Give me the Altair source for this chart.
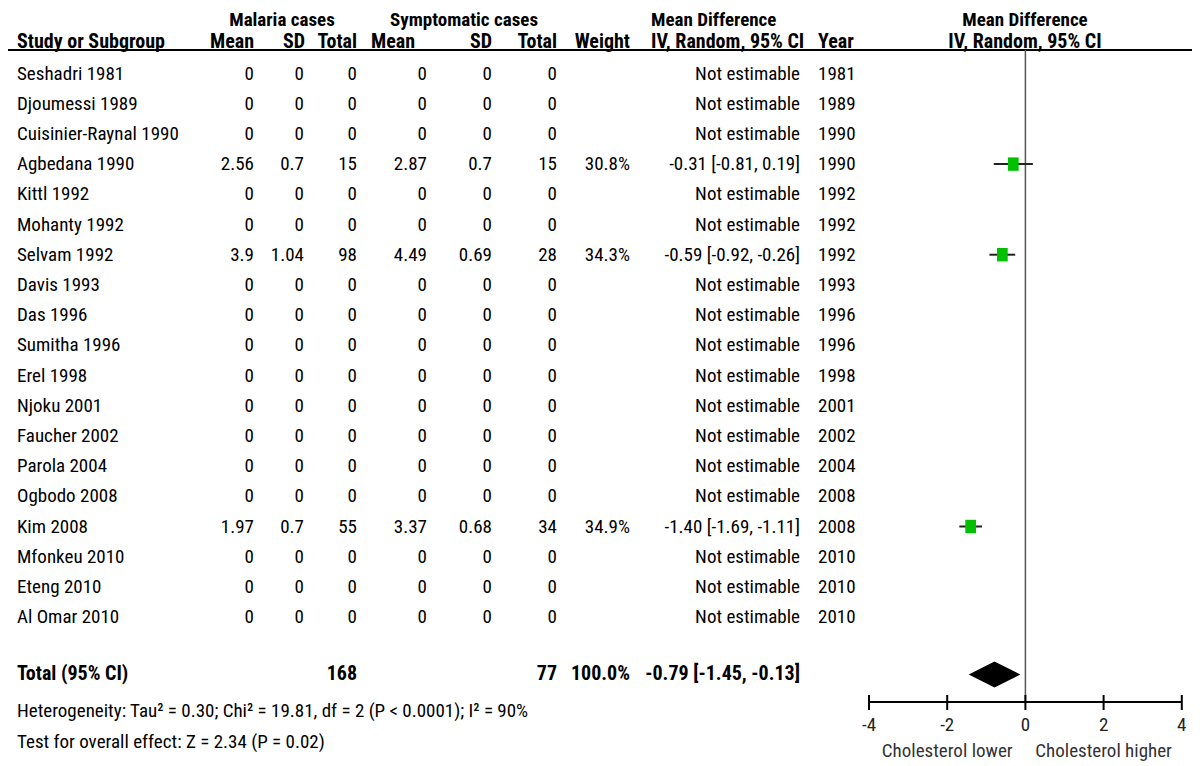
import altair as alt
import pandas as pd

# ---------------- data ----------------
studies = ["Seshadri 1981", "Djoumessi 1989", "Cuisinier-Raynal 1990", "Agbedana 1990",
           "Kittl 1992", "Mohanty 1992", "Selvam 1992", "Davis 1993", "Das 1996",
           "Sumitha 1996", "Erel 1998", "Njoku 2001", "Faucher 2002", "Parola 2004",
           "Ogbodo 2008", "Kim 2008", "Mfonkeu 2010", "Eteng 2010", "Al Omar 2010"]
years = [1981, 1989, 1990, 1990, 1992, 1992, 1992, 1993, 1996, 1996, 1998, 2001,
         2002, 2004, 2008, 2008, 2010, 2010, 2010]
mal_mean = [0, 0, 0, 2.56, 0, 0, 3.9, 0, 0, 0, 0, 0, 0, 0, 0, 1.97, 0, 0, 0]
mal_sd = [0, 0, 0, 0.7, 0, 0, 1.04, 0, 0, 0, 0, 0, 0, 0, 0, 0.7, 0, 0, 0]
mal_total = [0, 0, 0, 15, 0, 0, 98, 0, 0, 0, 0, 0, 0, 0, 0, 55, 0, 0, 0]
sym_mean = [0, 0, 0, 2.87, 0, 0, 4.49, 0, 0, 0, 0, 0, 0, 0, 0, 3.37, 0, 0, 0]
sym_sd = [0, 0, 0, 0.7, 0, 0, 0.69, 0, 0, 0, 0, 0, 0, 0, 0, 0.68, 0, 0, 0]
sym_total = [0, 0, 0, 15, 0, 0, 28, 0, 0, 0, 0, 0, 0, 0, 0, 34, 0, 0, 0]
weights = [None, None, None, 30.8, None, None, 34.3, None, None, None, None, None,
           None, None, None, 34.9, None, None, None]
md = [None, None, None, -0.31, None, None, -0.59, None, None, None, None, None,
      None, None, None, -1.40, None, None, None]
md_lo = [None, None, None, -0.81, None, None, -0.92, None, None, None, None, None,
         None, None, None, -1.69, None, None, None]
md_hi = [None, None, None, 0.19, None, None, -0.26, None, None, None, None, None,
         None, None, None, -1.11, None, None, None]

total_mal = 168
total_sym = 77
total_weight = 100.0
pooled = -0.79
pooled_lo = -1.45
pooled_hi = -0.13
axis_ticks = [-4, -2, 0, 2, 4]
direction_labels = ["Cholesterol lower", "Cholesterol higher"]
direction_pos = [-2, 2]
heterogeneity = "Heterogeneity: Tau\u00b2 = 0.30; Chi\u00b2 = 19.81, df = 2 (P < 0.0001); I\u00b2 = 90%"
overall = "Test for overall effect: Z = 2.34 (P = 0.02)"

# ---------------- layout ----------------
FONT = "Roboto Condensed, Liberation Sans Narrow, Arial Narrow, sans-serif"
FS = 19
FSB = 20
W, H = 1184, 758
ROW0 = 65.5      # view y of first row
ROW_H = 30.2     # row spacing
TOTAL_ROW = 19.9
YS = alt.Scale(domain=[-ROW0 / ROW_H, (750 - ROW0) / ROW_H], range=[0, 750])
XS = alt.Scale(domain=[-4, 4], range=[861, 1173.8])


def fmt(v):
    return f"{v:g}"


rows = pd.DataFrame({
    "row": list(range(len(studies))),
    "study": studies,
    "mm": [fmt(v) for v in mal_mean],
    "ms": [fmt(v) for v in mal_sd],
    "mt": [fmt(v) for v in mal_total],
    "sm": [fmt(v) for v in sym_mean],
    "ss": [fmt(v) for v in sym_sd],
    "st": [fmt(v) for v in sym_total],
    "w": [f"{v:.1f}%" if v is not None else "" for v in weights],
    "ci": [f"{m:.2f} [{l:.2f}, {h:.2f}]" if m is not None else "Not estimable"
           for m, l, h in zip(md, md_lo, md_hi)],
    "year": [str(y) for y in years],
    "md": md, "lo": md_lo, "hi": md_hi,
})
est = rows.dropna(subset=["md"])

total_df = pd.DataFrame({
    "row": [TOTAL_ROW], "study": ["Total (95% CI)"], "mt": [str(total_mal)],
    "st": [str(total_sym)], "w": [f"{total_weight:.1f}%"],
    "ci": [f"{pooled:.2f} [{pooled_lo:.2f}, {pooled_hi:.2f}]"],
})

layers = []

# table columns: (field, x, align)
cols = [("study", 9, "left"), ("mm", 246, "right"), ("ms", 296, "right"),
        ("mt", 349, "right"), ("sm", 419, "right"), ("ss", 484, "right"),
        ("st", 549, "right"), ("w", 622, "right"), ("ci", 792, "right"),
        ("year", 810, "left")]
for f, x, a in cols:
    layers.append(
        alt.Chart(rows).mark_text(align=a, baseline="middle", font=FONT, fontSize=FS, color="black")
        .encode(x=alt.value(x), y=alt.Y("row:Q", scale=YS, axis=None), text=f"{f}:N")
    )
    if f in total_df.columns:
        layers.append(
            alt.Chart(total_df).mark_text(align=a, baseline="middle", font=FONT, fontSize=FSB,
                                          fontWeight="bold", color="black")
            .encode(x=alt.value(x), y=alt.Y("row:Q", scale=YS, axis=None), text=f"{f}:N")
        )


def label(txt, x, y, align="left", bold=False, color="black", size=None):
    df = pd.DataFrame({"t": [txt]})
    fs = size if size else (FSB if bold else FS)
    kw = dict(align=align, baseline="middle", font=FONT, fontSize=fs, color=color)
    if bold:
        kw["fontWeight"] = "bold"
    return alt.Chart(df).mark_text(**kw).encode(x=alt.value(x), y=alt.value(y), text="t:N")


HY1, HY2 = 11.5, 33.5
layers += [
    label("Malaria cases", 274, HY1, "center", True, size=19),
    label("Symptomatic cases", 456, HY1, "center", True, size=19),
    label("Mean Difference", 643, HY1, "left", True, size=19),
    label("Mean Difference", 1017, HY1, "center", True, size=19),
    label("Study or Subgroup", 9, HY2, "left", True),
    label("Mean", 246, HY2, "right", True),
    label("SD", 297, HY2, "right", True),
    label("Total", 349, HY2, "right", True),
    label("Mean", 407, HY2, "right", True),
    label("SD", 484, HY2, "right", True),
    label("Total", 549, HY2, "right", True),
    label("Weight", 622, HY2, "right", True),
    label("IV, Random, 95% CI", 643, HY2, "left", True),
    label("Year", 810, HY2, "left", True),
    label("IV, Random, 95% CI", 1017, HY2, "center", True),
    label(heterogeneity, 9, 703, "left"),
    label(overall, 9, 734, "left"),
]

# header rule
layers.append(
    alt.Chart(pd.DataFrame({"a": [0]})).mark_rule(color="black", strokeWidth=2)
    .encode(x=alt.value(0), x2=alt.value(W), y=alt.value(42))
)

# zero line
layers.append(
    alt.Chart(pd.DataFrame({"x": [0]})).mark_rule(color="#555555", strokeWidth=1.5)
    .encode(x=alt.X("x:Q", scale=XS, axis=None), y=alt.value(42), y2=alt.value(694))
)

# CI lines
layers.append(
    alt.Chart(est).mark_rule(color="#222222", strokeWidth=2)
    .encode(x=alt.X("lo:Q", scale=XS, axis=None), x2="hi:Q",
            y=alt.Y("row:Q", scale=YS, axis=None))
)
# squares
layers.append(
    alt.Chart(est).mark_point(shape="M-0.8,-1L0.8,-1L0.8,1L-0.8,1Z", filled=True,
                              color="#00c000", opacity=1, size=180)
    .encode(x=alt.X("md:Q", scale=XS, axis=None), y=alt.Y("row:Q", scale=YS, axis=None))
)

# diamond
HALF = 0.43
dia = pd.DataFrame({
    "x": [pooled_lo, pooled, pooled_hi],
    "y": [TOTAL_ROW, TOTAL_ROW - HALF, TOTAL_ROW],
    "y2": [TOTAL_ROW, TOTAL_ROW + HALF, TOTAL_ROW],
})
layers.append(
    alt.Chart(dia).mark_area(color="black", orient="vertical", opacity=1)
    .encode(x=alt.X("x:Q", scale=XS, axis=None), y=alt.Y("y:Q", scale=YS, axis=None), y2="y2:Q")
)

# forest axis
ax = pd.DataFrame({"lo": [min(axis_ticks)], "hi": [max(axis_ticks)]})
layers.append(
    alt.Chart(ax).mark_rule(color="black", strokeWidth=2)
    .encode(x=alt.X("lo:Q", scale=XS, axis=None), x2="hi:Q", y=alt.value(694))
)
ticks = pd.DataFrame({"v": axis_ticks, "lab": [str(t) for t in axis_ticks]})
layers.append(
    alt.Chart(ticks).mark_rule(color="black", strokeWidth=2)
    .encode(x=alt.X("v:Q", scale=XS, axis=None), y=alt.value(687), y2=alt.value(702))
)
layers.append(
    alt.Chart(ticks).mark_text(baseline="middle", align="center", font=FONT, fontSize=FS, color="#222222")
    .encode(x=alt.X("v:Q", scale=XS, axis=None), y=alt.value(717), text="lab:N")
)
dirs = pd.DataFrame({"v": direction_pos, "lab": direction_labels})
layers.append(
    alt.Chart(dirs).mark_text(baseline="middle", align="center", font=FONT, fontSize=FS, color="#333333")
    .encode(x=alt.X("v:Q", scale=XS, axis=None), y=alt.value(743), text="lab:N")
)

chart = alt.layer(*layers).properties(
    width=W, height=H, padding=0, autosize="none", background="white"
).configure_view(strokeWidth=0)

chart.save("out.html", embed_options={"renderer": "svg", "actions": False})
